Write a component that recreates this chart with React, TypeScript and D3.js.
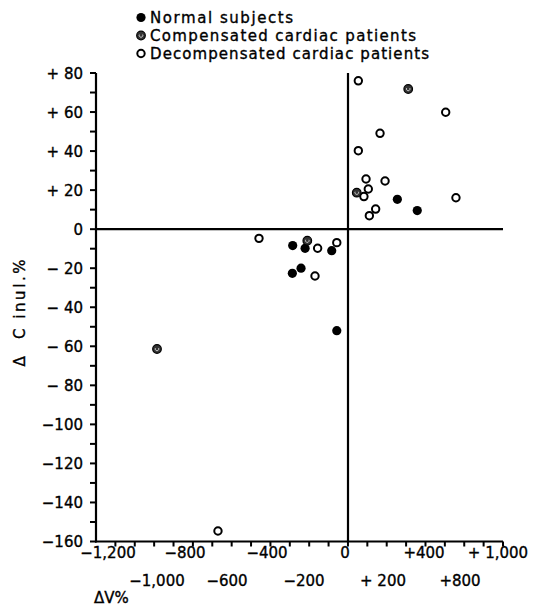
import React from "react";
import * as d3 from "d3";

// ---- data ----
const normalX = [-261, -195, -74, -216, -263, -51, 270, 367];
const normalY = [-8.4, -9.8, -11, -20, -22.6, -52, 15.3, 9.5];

const compX = [-1000, -185, 323, 50];
const compY = [-61.4, -5.9, 71.8, 18.7];

const decompX = [-643, -440, -138, -51, -150, 59, 641, 183, 59, 103, 210, 116, 91, 755, 158, 122];
const decompY = [-154.6, -4.7, -9.8, -6.9, -24, 76, 59.9, 49.1, 40.2, 25.7, 24.7, 20.6, 16.7, 16.1, 10.3, 6.9];

const xTickValues = [-1200, -1000, -800, -600, -400, -200, 0, 200, 400, 800, 1000];
const xTickLabels = ["\u22121,200", "\u22121,000", "\u2212800", "\u2212600", "\u2212400", "\u2212200", "0", "+ 200", "+400", "+800", "+ 1,000"];
const yTickValues = [80, 60, 40, 20, 0, -20, -40, -60, -80, -100, -120, -140, -160];
const yTickLabels = ["+ 80", "+ 60", "+ 40", "+ 20", "0", "\u2212 20", "\u2212 40", "\u2212 60", "\u2212 80", "\u2212100", "\u2212120", "\u2212140", "\u2212160"];
const legendLabels = ["Normal subjects", "Compensated cardiac patients", "Decompensated cardiac patients"];

// ---- layout ----
const W = 533, H = 609;
const xRangeStops = [96, 157, 185, 227, 267, 304, 348, 383, 424, 460, 503];
const x = d3.scaleLinear().domain(xTickValues).range(xRangeStops);
const y = d3.scaleLinear().domain([-160, 80]).range([541.5, 73]);
const FONT = "'DejaVu Sans', sans-serif";

function Normal({ cx, cy }: { cx: number; cy: number }) {
  return <circle cx={cx} cy={cy} r={4.6} fill="#000" />;
}
function Comp({ cx, cy }: { cx: number; cy: number }) {
  return (
    <g>
      <circle cx={cx} cy={cy} r={4.3} fill="#333" stroke="#000" strokeWidth={1.2} />
      <path d={`M${cx - 1.6},${cy - 0.9} A1.8,1.8 0 1 0 ${cx + 1.6},${cy - 0.9}`} fill="none" stroke="#ddd" strokeWidth={0.9} />
    </g>
  );
}
function Decomp({ cx, cy }: { cx: number; cy: number }) {
  return <circle cx={cx} cy={cy} r={3.7} fill="#fff" stroke="#000" strokeWidth={2} />;
}

export default function App() {
  const x0 = x(-1200), x1 = x(1000);
  const yBottom = y(-160), yTop = y(80);
  const nMinor = 21;
  const minorX = d3.range(1, nMinor + 1).map((i) => x0 + ((x1 - x0) * i) / nMinor);
  const yMinor = d3.range(-160, 81, 10);
  const topRow = [0, 2, 4, 6, 8, 10];
  const labelDx: Record<number, number> = { 0: 12, 6: -3, 10: -5 };
  const legendWidths = [143, 266, 279];
  const textStyle = { stroke: "#000", strokeWidth: 0.35 };

  return (
    <svg width={W} height={H} style={{ position: "absolute", left: 0, top: 0, background: "#fff" }} fontFamily={FONT}>
      <rect width={W} height={H} fill="#fff" />
      {/* legend */}
      {legendLabels.map((t, i) => {
        const cy = 17.5 + i * 18;
        const cx = 141;
        return (
          <g key={t}>
            {i === 0 && <Normal cx={cx} cy={cy} />}
            {i === 1 && <Comp cx={cx} cy={cy} />}
            {i === 2 && <Decomp cx={cx} cy={cy} />}
            <text x={cx + 9} y={cy + 5.5} fontSize={15} textLength={legendWidths[i]} lengthAdjust="spacing" fill="#000" style={textStyle}>{t}</text>
          </g>
        );
      })}

      {/* axes */}
      <line x1={x0} x2={x0} y1={yTop} y2={yBottom + 1} stroke="#000" strokeWidth={2.2} />
      <line x1={x0 - 1} x2={x1} y1={yBottom} y2={yBottom} stroke="#000" strokeWidth={2.2} />
      <line x1={x0} x2={x1} y1={y(0)} y2={y(0)} stroke="#000" strokeWidth={2.2} />
      <line x1={x(0)} x2={x(0)} y1={yTop} y2={yBottom} stroke="#000" strokeWidth={2.2} />

      {yMinor.map((v) => (
        <line key={v} x1={x0 - 6} x2={x0} y1={y(v)} y2={y(v)} stroke="#000" strokeWidth={2} />
      ))}
      {minorX.map((px, i) => (
        <line key={i} x1={px} x2={px} y1={yBottom} y2={yBottom + 5} stroke="#000" strokeWidth={2} />
      ))}

      {yTickValues.map((v, i) => (
        <text key={v} x={83} y={y(v) + 5.5} fontSize={15} textAnchor="end" fill="#000" style={textStyle}>{yTickLabels[i]}</text>
      ))}
      {xTickValues.map((v, i) => {
        const top = topRow.includes(i);
        return (
          <text key={v} x={x(v) + (labelDx[i] || 0)} y={top ? 558 : 586} fontSize={15} textAnchor="middle" fill="#000" style={textStyle}>{xTickLabels[i]}</text>
        );
      })}

      <text transform={`translate(25,313) rotate(-90)`} fontSize={15} textAnchor="middle" textLength={107} lengthAdjust="spacing" fill="#000" style={textStyle}>
        {"\u0394\u00a0\u00a0C inul.%"}
      </text>
      <text x={94} y={603} fontSize={15} fill="#000" style={textStyle}>{"\u0394V%"}</text>

      {/* points */}
      {decompX.map((v, i) => <Decomp key={"d" + i} cx={x(v)} cy={y(decompY[i])} />)}
      {normalX.map((v, i) => <Normal key={"n" + i} cx={x(v)} cy={y(normalY[i])} />)}
      {compX.map((v, i) => <Comp key={"c" + i} cx={x(v)} cy={y(compY[i])} />)}
    </svg>
  );
}
